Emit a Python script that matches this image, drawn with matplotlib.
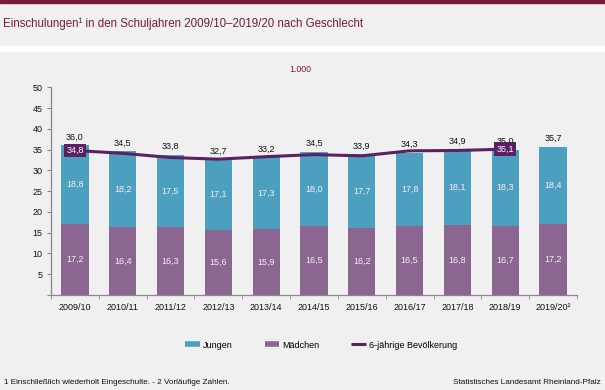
import matplotlib.pyplot as plt
import matplotlib.patches as mpatches
from matplotlib.lines import Line2D
import numpy as np

plt.rcParams['font.family'] = ['Liberation Sans', 'DejaVu Sans']

# data
years = ["2009/10", "2010/11", "2011/12", "2012/13", "2013/14", "2014/15",
         "2015/16", "2016/17", "2017/18", "2018/19", "2019/20²"]
maedchen = [17.2, 16.4, 16.3, 15.6, 15.9, 16.5, 16.2, 16.5, 16.8, 16.7, 17.2]
jungen = [18.8, 18.2, 17.5, 17.1, 17.3, 18.0, 17.7, 17.8, 18.1, 18.3, 18.4]
totals = [36.0, 34.5, 33.8, 32.7, 33.2, 34.5, 33.9, 34.3, 34.9, 35.0, 35.7]
# 6-year-old population (no value for the last year)
bevoelkerung = [34.8, 34.1, 33.1, 32.7, 33.3, 33.8, 33.5, 34.7, 34.8, 35.1]
boxed = [0, 9]  # points whose value is shown in a box

bg = "#eff0ef"
c_jungen = "#4d9fc0"
c_maedchen = "#8b6690"
c_line = "#5b2062"
maroon = "#7a1a35"

fig = plt.figure(figsize=(6.05, 3.9), dpi=100, facecolor=bg)

# top border and white separator under the title band
fig.patches.append(mpatches.Rectangle((0, 1 - 2.5 / 390), 1, 2.5 / 390,
                                      transform=fig.transFigure, color=maroon))
fig.patches.append(mpatches.Rectangle((0, 1 - 51 / 390), 1, 5 / 390,
                                      transform=fig.transFigure, color="white"))
fig.text(3 / 605, 1 - 24 / 390, "Einschulungen¹ in den Schuljahren 2009/10–2019/20 nach Geschlecht",
         color=maroon, fontsize=8.3, va="center", ha="left")
fig.text(300 / 605, 1 - 70 / 390, "1.000", color=maroon, fontsize=6.3,
         va="center", ha="center")

ax = fig.add_axes([51 / 605, 1 - 295 / 390, 526 / 605, (295 - 87.3) / 390])
ax.set_facecolor(bg)

x = np.arange(len(years))
w = 0.57
ax.bar(x, maedchen, w, color=c_maedchen, zorder=2)
ax.bar(x, jungen, w, bottom=maedchen, color=c_jungen, zorder=2)

for i in range(len(years)):
    ax.text(x[i], maedchen[i] / 2, f"{maedchen[i]:.1f}".replace(".", ","),
            ha="center", va="center", color="#f2f2f2", fontsize=6.5, zorder=4)
    ax.text(x[i], maedchen[i] + jungen[i] / 2, f"{jungen[i]:.1f}".replace(".", ","),
            ha="center", va="center", color="#f2f2f2", fontsize=6.5, zorder=4)
    ax.text(x[i], totals[i] + 0.9, f"{totals[i]:.1f}".replace(".", ","),
            ha="center", va="bottom", color="#111111", fontsize=6.5, zorder=4)

xl = np.arange(len(bevoelkerung))
ax.plot(xl, bevoelkerung, color=c_line, lw=2.2, zorder=3, solid_capstyle="butt")
for i in boxed:
    ax.text(xl[i], bevoelkerung[i], f"{bevoelkerung[i]:.1f}".replace(".", ","),
            ha="center", va="center", color="white", fontsize=6.5, zorder=5,
            bbox=dict(boxstyle="square,pad=0.25", fc=c_line, ec="none"))

ax.set_xlim(-0.5, len(years) - 0.5)
ax.set_ylim(0, 50)
ax.set_yticks(np.arange(0, 51, 5))
ax.set_yticklabels([""] + [str(v) for v in range(5, 51, 5)])
ax.set_xticks(x)
ax.set_xticklabels(years)
ax.set_xticks(np.arange(-0.5, len(years)), minor=True)
ax.tick_params(axis="x", which="major", length=0, pad=6, labelsize=6.5, colors="#111111")
ax.tick_params(axis="x", which="minor", length=3, color="#888888")
ax.tick_params(axis="y", length=3, color="#888888", labelsize=6.5, labelcolor="#111111", pad=3)
for s in ["top", "right"]:
    ax.spines[s].set_visible(False)
for s in ["left", "bottom"]:
    ax.spines[s].set_color("#888888")
    ax.spines[s].set_linewidth(0.9)

handles = [Line2D([], [], color=c_jungen, lw=4, solid_capstyle="butt"),
           Line2D([], [], color=c_maedchen, lw=4, solid_capstyle="butt"),
           Line2D([], [], color=c_line, lw=2.2, solid_capstyle="butt")]
fig.legend(handles, ["Jungen", "Mädchen", "6-jährige Bevölkerung"],
           loc="center", bbox_to_anchor=(321 / 605, 1 - 345 / 390), ncol=3,
           frameon=False, fontsize=6.5, handlelength=1.6, handletextpad=0.3,
           columnspacing=3.6)

fig.text(4 / 605, 1 - 383 / 390, "1 Einschließlich wiederholt Eingeschulte. - 2 Vorläufige Zahlen.",
         fontsize=5.9, color="#111111", va="center", ha="left")
fig.text(601 / 605, 1 - 383 / 390, "Statistisches Landesamt Rheinland-Pfalz",
         fontsize=5.9, color="#111111", va="center", ha="right")

fig.savefig("out.png", dpi=100, facecolor=bg)
